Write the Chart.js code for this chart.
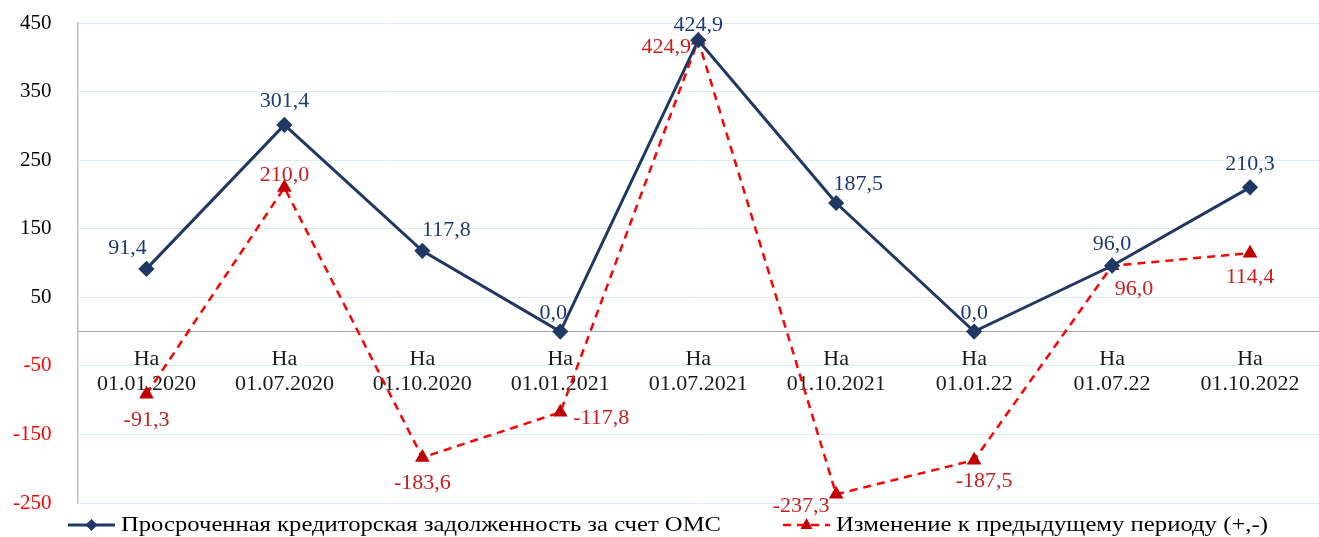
<!DOCTYPE html>
<html>
<head>
<meta charset="utf-8">
<script src="https://cdn.jsdelivr.net/npm/chart.js@4"></script>
<style>
  html, body { margin: 0; padding: 0; background: #fff; }
  #wrap { width: 1319px; height: 537px; }
</style>
</head>
<body>
<div id="wrap"><canvas id="debtChart" width="1319" height="537"></canvas></div>
<script>
// --- data ---
const categories = [
    ['На', '01.01.2020'], ['На', '01.07.2020'], ['На', '01.10.2020'],
    ['На', '01.01.2021'], ['На', '01.07.2021'], ['На', '01.10.2021'],
    ['На', '01.01.22'], ['На', '01.07.22'], ['На', '01.10.2022']
];
const debtValues = [91.4, 301.4, 117.8, 0.0, 424.9, 187.5, 0.0, 96.0, 210.3];
const changeValues = [-91.3, 210.0, -183.6, -117.8, 424.9, -237.3, -187.5, 96.0, 114.4];
const seriesNames = [
    'Просроченная кредиторская задолженность за счет ОМС',
    'Изменение к предыдущему периоду (+,-)'
];
const yMin = -250, yMax = 450, yStep = 100;

// label offsets (px) from each point, per series
const debtLabelShift = [[-19, -21], [0, -24], [24, -21], [-7, -18], [0, -15], [22, -19], [0, -18], [0, -22], [0, -23]];
const changeLabelShift = [[0, 26], [0, -12], [0, 26], [41, 6], [-32, 7], [-35, 12], [10, 21], [22, 23], [0, 24]];

const BLUE = '#1f3864';
const BLUE_TEXT = '#1f3a73';
const RED = '#ff0000';
const RED_MARK = '#c00000';
const RED_TEXT = '#c81e1e';
const SERIF = '"Liberation Serif", "Times New Roman", serif';

function fmt(v) {
    return v.toFixed(1).replace('.', ',');
}

const valueLabels = {
    id: 'valueLabels',
    afterDatasetsDraw(chart) {
        const ctx = chart.ctx;
        ctx.save();
        ctx.font = '22px ' + SERIF;
        ctx.textAlign = 'center';
        ctx.textBaseline = 'middle';
        chart.data.datasets.forEach((ds, i) => {
            const meta = chart.getDatasetMeta(i);
            const shifts = i === 0 ? debtLabelShift : changeLabelShift;
            ctx.fillStyle = i === 0 ? BLUE_TEXT : RED_TEXT;
            meta.data.forEach((pt, j) => {
                ctx.fillText(fmt(ds.data[j]), pt.x + shifts[j][0], pt.y + shifts[j][1]);
            });
        });
        ctx.restore();
    }
};

const bottomLegend = {
    id: 'bottomLegend',
    afterDraw(chart) {
        const ctx = chart.ctx;
        const y = chart.height - 12;
        const items = [
            {x: 68, w: 600, color: BLUE, dash: [], mark: 'diamond', markColor: BLUE},
            {x: 783, w: 432, color: RED, dash: [8, 6], mark: 'triangle', markColor: RED_MARK}
        ];
        ctx.save();
        ctx.font = '22px ' + SERIF;
        ctx.textBaseline = 'middle';
        items.forEach((it, i) => {
            ctx.strokeStyle = it.color;
            ctx.lineWidth = it.dash.length ? 2.5 : 3;
            ctx.setLineDash(it.dash);
            ctx.beginPath();
            ctx.moveTo(it.x, y);
            ctx.lineTo(it.x + 47, y);
            ctx.stroke();
            ctx.setLineDash([]);
            ctx.fillStyle = it.markColor;
            const cx = it.x + 23.5;
            ctx.beginPath();
            if (it.mark === 'diamond') {
                ctx.moveTo(cx, y - 6); ctx.lineTo(cx + 6, y); ctx.lineTo(cx, y + 6); ctx.lineTo(cx - 6, y);
            } else {
                ctx.moveTo(cx, y - 7); ctx.lineTo(cx + 6, y + 4); ctx.lineTo(cx - 6, y + 4);
            }
            ctx.closePath();
            ctx.fill();
            // the picture's text is a little wider than the font, stretch to fit
            const text = seriesNames[i];
            const natural = ctx.measureText(text).width;
            const sx = it.w / natural;
            ctx.fillStyle = '#000';
            ctx.save();
            ctx.translate(it.x + 53, y);
            ctx.scale(sx, 1);
            ctx.fillText(text, 0, 0);
            ctx.restore();
        });
        ctx.restore();
    }
};

const ctx = document.getElementById('debtChart').getContext('2d');
const debtChart = new Chart(ctx, {
    type: 'line',
    data: {
        labels: categories,
        datasets: [{
                label: seriesNames[0],
                data: debtValues,
                borderColor: BLUE,
                backgroundColor: BLUE,
                borderWidth: 3,
                pointStyle: 'rectRot',
                pointRadius: 6,
                pointBackgroundColor: BLUE,
                pointBorderColor: BLUE,
                tension: 0,
                fill: false
            },
            {
                label: seriesNames[1],
                data: changeValues,
                borderColor: RED,
                backgroundColor: RED_MARK,
                borderWidth: 2.5,
                borderDash: [8, 6],
                pointStyle: 'triangle',
                pointRadius: 6,
                pointBackgroundColor: RED_MARK,
                pointBorderColor: RED_MARK,
                tension: 0,
                fill: false
            }
        ]
    },
    options: {
        responsive: false,
        animation: false,
        devicePixelRatio: 1,
        layout: {
            autoPadding: false,
            padding: {top: 23, bottom: 34, left: 11, right: -3}
        },
        scales: {
            x: {
                position: {y: 0},
                offset: true,
                afterFit: scale => {
                    // the end labels sit inside their category slots, no extra room needed
                    scale.paddingLeft = 0;
                    scale.paddingRight = 0;
                },
                grid: {display: false, drawTicks: true, tickLength: 15, tickColor: 'rgba(0,0,0,0)', offset: true},
                border: {color: '#a6a6a6', width: 1},
                ticks: {
                    autoSkip: false,
                    maxRotation: 0,
                    padding: 0,
                    color: '#1a1a1a',
                    font: {family: SERIF, size: 22, lineHeight: 1.15}
                }
            },
            y: {
                min: yMin,
                max: yMax,
                grid: {color: '#dcedf3', drawTicks: true, tickLength: 24, tickColor: 'rgba(0,0,0,0)'},
                border: {color: '#bfbfbf', width: 1.5},
                ticks: {
                    stepSize: yStep,
                    padding: 2,
                    color: c => c.tick.value < 0 ? '#ff0000' : '#000000',
                    font: {family: SERIF, size: 21}
                }
            }
        },
        plugins: {
            legend: {display: false},
            tooltip: {enabled: false}
        }
    },
    plugins: [valueLabels, bottomLegend]
});
</script>
</body>
</html>
